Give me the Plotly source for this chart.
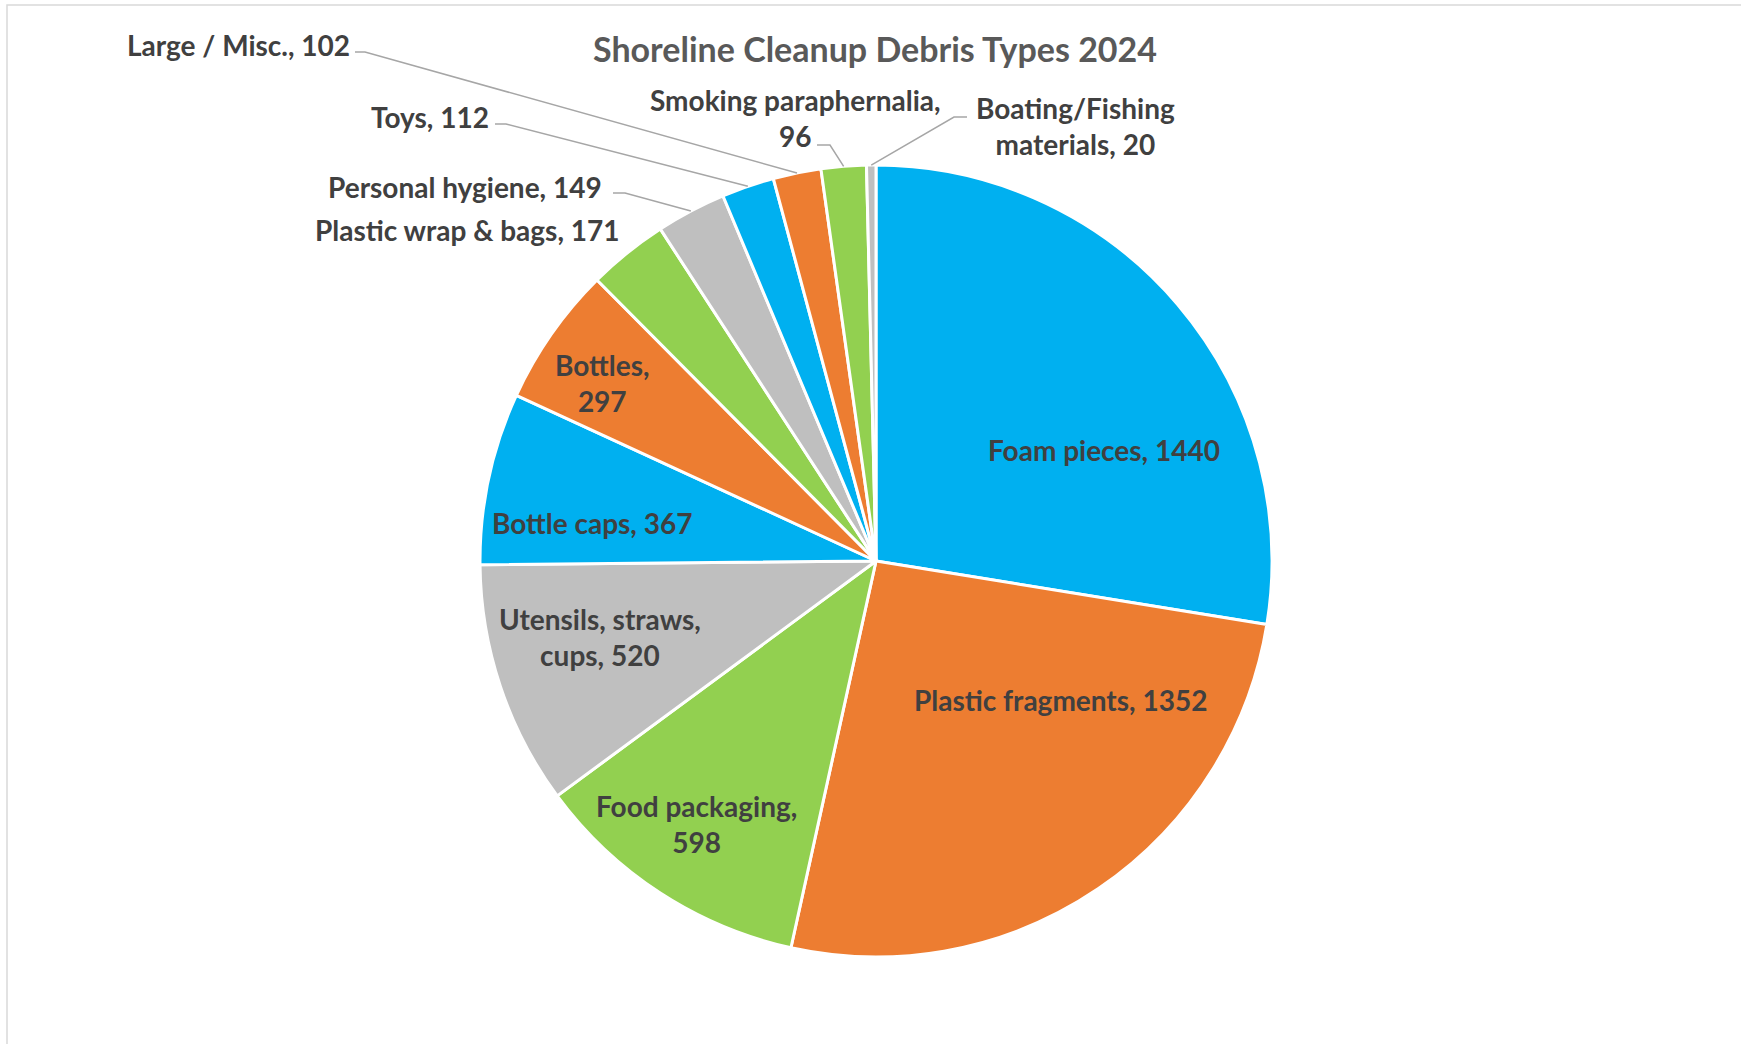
import math
import plotly.graph_objects as go

# ---------------- data ----------------
categories = ["Foam pieces", "Plastic fragments", "Food packaging", "Utensils, straws, cups",
              "Bottle caps", "Bottles", "Plastic wrap & bags", "Personal hygiene", "Toys",
              "Large / Misc.", "Smoking paraphernalia", "Boating/Fishing materials"]
values = [1440, 1352, 598, 520, 367, 297, 171, 149, 112, 102, 96, 20]
title_text = "Shoreline Cleanup Debris Types 2024"

# ---------------- style ----------------
W, H = 1741, 1044
palette = ["#00B0F0", "#ED7D31", "#92D050", "#BFBFBF"]
colors = [palette[i % 4] for i in range(len(values))]
FONT = "Lato"
LABEL_COLOR = "#404040"
LABEL_SIZE = 28

# pie geometry (pixels)
CX, CY, R = 876, 561, 396

# words on first line (None = single line)
wrap_words = [None, None, 2, 2, None, 1, None, None, None, None, 2, 1]
# label centre (pixels from top-left)
label_xy = [(1104, 450), (1060, 700), (696, 824), (600, 637), (592, 523), (602, 383),
            (467, 230), (465, 187), (430, 117), (238, 45), (795, 118), (1075, 126)]
# leader line start + elbow (pixels) for outside labels
leaders = {7: [(613, 193), (625, 193)],
           8: [(495, 124), (506, 124)],
           9: [(355, 52), (365, 52)],
           10: [(817, 145), (830, 145)],
           11: [(967, 117), (954, 117)]}


def px(x, y):
    return x / W, 1 - y / H


def label_for(i):
    words = f"{categories[i]}, {values[i]}".split(" ")
    n = wrap_words[i]
    if n is None:
        return " ".join(words)
    return " ".join(words[:n]) + "<br>" + " ".join(words[n:])


total = sum(values)
cum = [sum(values[:i]) for i in range(len(values))]

fig = go.Figure(go.Pie(
    labels=categories, values=values, sort=False, direction="clockwise", rotation=0,
    marker=dict(colors=colors, line=dict(color="white", width=3)),
    textinfo="none", showlegend=False, hoverinfo="label+value",
    domain=dict(x=[(CX - R) / W, (CX + R) / W], y=[(H - CY - R) / H, (H - CY + R) / H]),
))

annotations = []
for i in range(len(values)):
    x, y = px(*label_xy[i])
    annotations.append(dict(x=x, y=y, xref="paper", yref="paper", text=label_for(i),
                            showarrow=False, xanchor="center", yanchor="middle",
                            font=dict(family=FONT, size=LABEL_SIZE, color=LABEL_COLOR, weight="bold")))

shapes = []
for i, pts in leaders.items():
    mid = (cum[i] + values[i] / 2) / total * 2 * math.pi
    ax = CX + R * math.sin(mid)
    ay = CY - R * math.cos(mid)
    allpts = pts + [(ax, ay)]
    path = "M " + " L ".join(f"{px(a, b)[0]},{px(a, b)[1]}" for a, b in allpts)
    shapes.append(dict(type="path", path=path, xref="paper", yref="paper",
                       line=dict(color="#A6A6A6", width=1.5)))

# chart border
shapes.append(dict(type="rect", xref="paper", yref="paper", x0=7 / W, x1=1.02,
                   y0=-0.02, y1=1 - 5 / H, line=dict(color="#D9D9D9", width=1.5)))

tx, ty = px(875, 49)
annotations.append(dict(x=tx, y=ty, xref="paper", yref="paper", text=title_text, showarrow=False,
                        xanchor="center", yanchor="middle",
                        font=dict(family=FONT, size=34, color="#595959", weight="bold")))

fig.update_layout(width=W, height=H, margin=dict(l=0, r=0, t=0, b=0),
                  paper_bgcolor="white", plot_bgcolor="white",
                  annotations=annotations, shapes=shapes)

fig.write_html("out.html")
